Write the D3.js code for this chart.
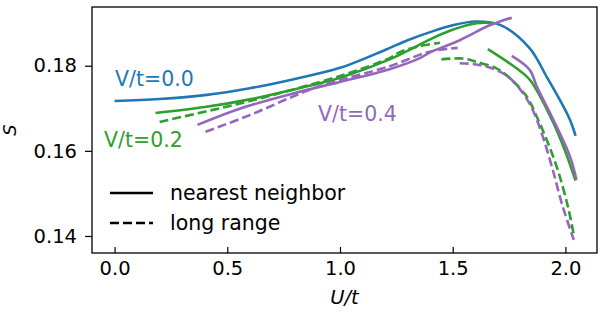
<!DOCTYPE html>
<html lang="en">
<head>
    <meta charset="UTF-8">
    <title>S vs U/t</title>
    <script src="https://d3js.org/d3.v7.min.js"></script>
    <style>
        body { margin: 0; background: #fff; }
        text { font-family: "DejaVu Sans", sans-serif; }
    </style>
</head>
<body>
<script>
    // values: [U/t, S]
    const nnV00 = [[0, 0.1717], [0.2, 0.1722], [0.4, 0.1731], [0.6, 0.1747], [0.8, 0.1769],
        [1.0, 0.1795], [1.2, 0.1837], [1.3, 0.1860], [1.4, 0.1879], [1.5, 0.1895], [1.6, 0.1904],
        [1.71, 0.1896], [1.84, 0.1842], [1.917, 0.1774], [1.975, 0.1720], [2.02, 0.1673], [2.045, 0.1635]];

    const nnV02Upper = [[0.182, 0.1689], [0.4, 0.1703], [0.6, 0.1721], [0.8, 0.1745], [1.0, 0.1772],
        [1.22, 0.1815], [1.4, 0.1862], [1.487, 0.1882], [1.576, 0.1897], [1.642, 0.1901], [1.687, 0.1900]];
    const nnV02Lower = [[1.656, 0.1839], [1.783, 0.1794], [1.842, 0.1767], [1.94, 0.1673],
        [1.997, 0.1602], [2.045, 0.1530]];

    const nnV04Upper = [[0.368, 0.1661], [0.555, 0.1699], [0.8, 0.1736], [1.0, 0.1762], [1.22, 0.1792],
        [1.354, 0.1818], [1.398, 0.1831], [1.531, 0.1860], [1.664, 0.1895], [1.762, 0.1913]];
    const nnV04Lower = [[1.762, 0.1823], [1.842, 0.1790], [1.873, 0.1751], [1.94, 0.1680],
        [2.02, 0.1587], [2.049, 0.1532]];

    const lrV02Upper = [[0.2, 0.1668], [0.4, 0.1692], [0.6, 0.1717], [1.0, 0.1776], [1.22, 0.1818],
        [1.265, 0.1832], [1.354, 0.1846], [1.443, 0.1854]];
    const lrV02Lower = [[1.45, 0.1815], [1.545, 0.1817], [1.605, 0.1809], [1.694, 0.1794], [1.753, 0.1771],
        [1.829, 0.1727], [1.873, 0.1680], [1.922, 0.1619], [1.966, 0.1555], [2.011, 0.1469], [2.037, 0.1403]];

    const lrV04Upper = [[0.404, 0.1645], [0.6, 0.1684], [0.888, 0.1748], [1.22, 0.1799], [1.398, 0.1833],
        [1.522, 0.1842]];
    const lrV04Lower = [[1.531, 0.1806], [1.589, 0.1804], [1.65, 0.1798], [1.709, 0.1786], [1.753, 0.1771],
        [1.811, 0.1736], [1.855, 0.1696], [1.9, 0.1633], [1.944, 0.1555], [1.988, 0.1469], [2.037, 0.1391]];

    const xTicks = [0, 0.5, 1.0, 1.5, 2.0];
    const yTicks = [0.14, 0.16, 0.18];
    const seriesLabels = ["V/t=0.0", "V/t=0.2", "V/t=0.4"];
    const legendLabels = ["nearest neighbor", "long range"];

    const colors = ["#1f77b4", "#2ca02c", "#9467bd"];

    const width = 600, height = 315;
    const margin = { left: 92, right: 3, top: 7, bottom: 62 };

    const svg = d3.select("body").append("svg")
        .attr("width", width)
        .attr("height", height);

    const x = d3.scaleLinear()
        .domain([-0.1, 2.14])
        .range([margin.left, width - margin.right]);

    const y = d3.scaleLinear()
        .domain([0.136, 0.1938])
        .range([height - margin.bottom, margin.top]);

    const line = d3.line()
        .x(d => x(d[0]))
        .y(d => y(d[1]))
        .curve(d3.curveCatmullRom.alpha(0.5));

    const curves = [
        { data: nnV00, color: colors[0], dash: null },
        { data: nnV02Upper, color: colors[1], dash: null },
        { data: nnV02Lower, color: colors[1], dash: null },
        { data: nnV04Upper, color: colors[2], dash: null },
        { data: nnV04Lower, color: colors[2], dash: null },
        { data: lrV02Upper, color: colors[1], dash: "9,4" },
        { data: lrV02Lower, color: colors[1], dash: "9,4" },
        { data: lrV04Upper, color: colors[2], dash: "9,4" },
        { data: lrV04Lower, color: colors[2], dash: "9,4" }
    ];

    svg.append("g").selectAll("path")
        .data(curves)
        .join("path")
        .attr("fill", "none")
        .attr("stroke", d => d.color)
        .attr("stroke-width", 2.6)
        .attr("stroke-dasharray", d => d.dash)
        .attr("d", d => line(d.data));

    // axes
    const xAxis = svg.append("g")
        .attr("transform", `translate(0,${height - margin.bottom})`)
        .call(d3.axisBottom(x).tickValues(xTicks).tickFormat(d3.format(".1f"))
            .tickSize(-6).tickPadding(8));
    const yAxis = svg.append("g")
        .attr("transform", `translate(${margin.left},0)`)
        .call(d3.axisLeft(y).tickValues(yTicks).tickFormat(d3.format(".2f"))
            .tickSize(7).tickPadding(8));

    [xAxis, yAxis].forEach(g => {
        g.select(".domain").remove();
        g.selectAll(".tick line").attr("stroke", "#000").attr("stroke-width", 1.2);
        g.selectAll(".tick text").attr("fill", "#000")
            .style("font-family", "DejaVu Sans").style("font-size", "19.5px");
    });

    svg.append("rect")
        .attr("x", margin.left)
        .attr("y", margin.top)
        .attr("width", width - margin.left - margin.right)
        .attr("height", height - margin.top - margin.bottom)
        .attr("fill", "none")
        .attr("stroke", "#000")
        .attr("stroke-width", 1.3);

    svg.append("text")
        .attr("x", (margin.left + width - margin.right) / 2)
        .attr("y", 304)
        .attr("text-anchor", "middle")
        .style("font-size", "19.5px")
        .style("font-style", "italic")
        .text("U/t");

    svg.append("text")
        .attr("transform", `translate(15.5,${(margin.top + height - margin.bottom) / 2}) rotate(-90)`)
        .attr("text-anchor", "middle")
        .style("font-size", "18px")
        .style("font-style", "italic")
        .text("S");

    // series annotations
    const labelPos = [[115, 86], [104, 147], [318, 121]];
    svg.append("g").selectAll("text")
        .data(seriesLabels)
        .join("text")
        .attr("x", (d, i) => labelPos[i][0])
        .attr("y", (d, i) => labelPos[i][1])
        .attr("fill", (d, i) => colors[i])
        .style("font-size", "20.5px")
        .text(d => d);

    // legend
    const legend = svg.append("g");
    legendLabels.forEach((label, i) => {
        const ly = 193 + i * 30;
        legend.append("line")
            .attr("x1", 110).attr("x2", 153)
            .attr("y1", ly).attr("y2", ly)
            .attr("stroke", "#000")
            .attr("stroke-width", 2.6)
            .attr("stroke-dasharray", i === 1 ? "9,4" : null);
        legend.append("text")
            .attr("x", 170)
            .attr("y", ly)
            .attr("dy", "0.35em")
            .style("font-size", "20.5px")
            .text(label);
    });
</script>
</body>
</html>
